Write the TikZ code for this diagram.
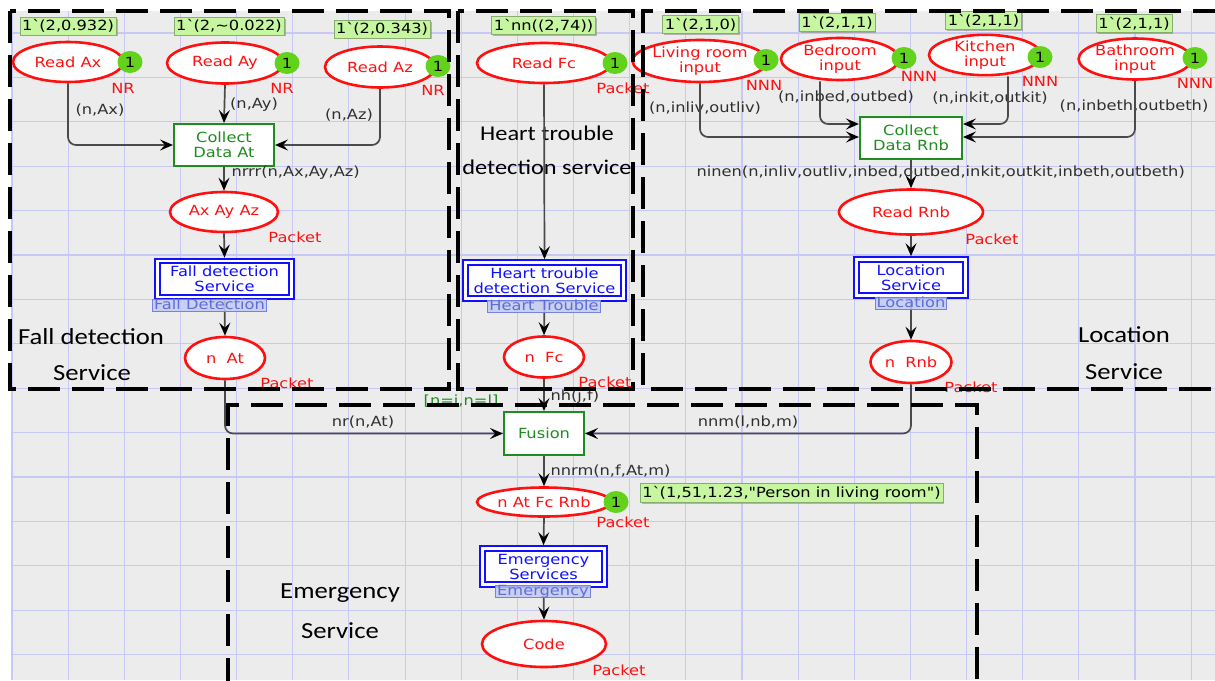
\documentclass[tikz,border=0pt]{standalone}
\usepackage{fontspec}
\usetikzlibrary{shapes.geometric,arrows.meta,shadows}
\newfontfamily\cpnfont[FakeStretch=1.16]{DejaVu Sans}
\newfontfamily\regionfont[FakeStretch=1.16]{Carlito}
\newcommand\bq{\textasciigrave}
\definecolor{canvasgray}{HTML}{ECECEC}
\definecolor{gridblue}{HTML}{C8C8F4}
\definecolor{placered}{HTML}{FF1010}
\definecolor{transgreen}{HTML}{1E8C1E}
\definecolor{substblue}{HTML}{1010FF}
\definecolor{tagfill}{HTML}{C3CAF2}
\definecolor{tagdraw}{HTML}{7483E2}
\definecolor{tagtext}{HTML}{5E6ED6}
\definecolor{tokgreen}{HTML}{C6F6A0}
\definecolor{dotgreen}{HTML}{62D21C}
\definecolor{arcgray}{HTML}{4A4A4A}
\definecolor{labelgray}{HTML}{303030}
\tikzset{
  cpnplace/.style={ellipse, draw=placered, line width=2.6pt, fill=white, text=placered, inner sep=0pt, align=center},
  cpntrans/.style={rectangle, draw=transgreen, line width=2pt, fill=white, text=transgreen, inner sep=0pt, align=center},
  cpnsubst/.style={rectangle, draw=substblue, line width=2pt, double=white, double distance=2.5pt, fill=white, text=substblue, inner sep=0pt, outer sep=3.3pt, align=center},
  cpntag/.style={rectangle, draw=tagdraw, line width=1pt, fill=tagfill, fill opacity=.85, text opacity=1, text=tagtext, inner xsep=1.5pt, inner ysep=0pt, text height=10pt, text depth=2pt},
  tokval/.style={rectangle, fill=tokgreen, draw=tokgreen!70!black, line width=.4pt, inner sep=2.3pt, drop shadow={shadow xshift=1.5pt, shadow yshift=-1.5pt, fill=black!45, opacity=.6}},
  tokdot/.style={ellipse, fill=dotgreen, inner sep=0pt, minimum width=25pt, minimum height=22pt},
  typelabel/.style={text=placered},
  arclabel/.style={text=labelgray},
  cpnarc/.style={draw=arcgray, line width=1.7pt, rounded corners=8pt, -{Stealth[length=13pt, width=11pt, inset=5pt, color=black]}},
  regionline/.style={draw=black, line width=4pt, dash pattern=on 32pt off 12pt},
  regiontext/.style={font=\regionfont\fontsize{23}{26}\selectfont, text=black}
}

\begin{document}
\begin{tikzpicture}[x=1pt, y=-1pt, every node/.style={font=\cpnfont\fontsize{14}{15}\selectfont}]
  \useasboundingbox (0,0) rectangle (1215,680);
  % canvas and grid
  \fill[canvasgray] (11,11) rectangle (1215,680);
  \foreach \k in {0,...,21} \draw[gridblue, line width=1.1pt] ({12+56.15*\k},11) -- ({12+56.15*\k},680);
  \foreach \k in {0,...,14} \draw[gridblue, line width=1.1pt] (11,{33+44.4*\k}) -- (1215,{33+44.4*\k});

  % fall detection service
  \node[tokval] (vAx) at (68,26) {1\bq(2,0.932)};
  \node[tokval] (vAy) at (229,26) {1\bq(2,\textasciitilde0.022)};
  \node[tokval] (vAz) at (382,29) {1\bq(2,0.343)};
  \node[cpnplace, minimum width=110pt, minimum height=40pt] (rAx) at (68,62) {Read Ax};
  \node[cpnplace, minimum width=116pt, minimum height=41pt] (rAy) at (225,63) {Read Ay};
  \node[cpnplace, minimum width=110pt, minimum height=41pt] (rAz) at (380,67) {Read Az};
  \node[tokdot] (kAx) at (130,62) {1};
  \node[tokdot] (kAy) at (287,63) {1};
  \node[tokdot] (kAz) at (438,66) {1};
  \node[typelabel] (tAx) at (123,88) {NR};
  \node[typelabel] (tAy) at (282,88) {NR};
  \node[typelabel] (tAz) at (433,90) {NR};
  \node[cpntrans, minimum width=100pt, minimum height=42pt] (cAt) at (224,145) {Collect\\Data At};
  \node[arclabel] (lAx) at (100,110) {(n,Ax)};
  \node[arclabel] (lAy) at (254,105) {(n,Ay)};
  \node[arclabel] (lAz) at (349,115) {(n,Az)};
  \node[arclabel, anchor=west] (lAt) at (228,173) {nrrr(n,Ax,Ay,Az)};
  \node[cpnplace, minimum width=108pt, minimum height=40pt] (pAxyz) at (224,212) {Ax Ay Az};
  \node[typelabel] (tAxyz) at (295,237) {Packet};
  \node[cpnsubst, minimum width=134pt, minimum height=36pt] (sFall) at (224.5,279) {Fall detection\\Service};
  \node[cpnplace, minimum width=80pt, minimum height=42pt] (pAt) at (225,358) {n\ \ At};
  \node[typelabel] (tAt) at (287,383) {Packet};
  \node[regiontext] (gFall) at (91,337) {Fall detection};
  \node[regiontext] (gFall2) at (92,373) {Service};

  % heart trouble detection service
  \node[tokval] (vFc) at (543.5,25.5) {1\bq nn((2,74))};
  \node[cpnplace, minimum width=134pt, minimum height=40pt] (rFc) at (544,63) {Read Fc};
  \node[tokdot] (kFc) at (615,63) {1};
  \node[typelabel] (tFc) at (623,88) {Packet};
  \node[regiontext, font=\regionfont\fontsize{21}{24}\selectfont] (gHeart) at (547,133) {Heart trouble};
  \node[regiontext, font=\regionfont\fontsize{21}{24}\selectfont] (gHeart2) at (547,167) {detection service};
  \node[cpnsubst, minimum width=158pt, minimum height=36pt] (sHeart) at (544.5,280.5) {Heart trouble\\detection Service};
  \node[cpnplace, minimum width=80pt, minimum height=41pt] (pFc) at (544,357) {n\ \ Fc};
  \node[typelabel] (tpFc) at (605,382) {Packet};

  % location service
  \node[tokval] (vLiv) at (700.5,24.5) {1\bq(2,1,0)};
  \node[tokval] (vBed) at (837,22.5) {1\bq(2,1,1)};
  \node[tokval] (vKit) at (983.5,20.5) {1\bq(2,1,1)};
  \node[tokval] (vBath) at (1134,23.5) {1\bq(2,1,1)};
  \node[cpnplace, minimum width=118pt, minimum height=42pt] (rLiv) at (700,61) {Living room\\input};
  \node[cpnplace, minimum width=118pt, minimum height=42pt] (rBed) at (840,59) {Bedroom\\input};
  \node[cpnplace, minimum width=112pt, minimum height=40pt] (rKit) at (985,55) {Kitchen\\input};
  \node[cpnplace, minimum width=110pt, minimum height=41pt] (rBath) at (1135,59) {Bathroom\\input};
  \node[tokdot] (kLiv) at (766,60) {1};
  \node[tokdot] (kBed) at (904,58) {1};
  \node[tokdot] (kKit) at (1040,57) {1};
  \node[tokdot] (kBath) at (1195,58) {1};
  \node[typelabel] (tLiv) at (764,85) {NNN};
  \node[typelabel] (tBed) at (919,76) {NNN};
  \node[typelabel] (tKit) at (1040,81) {NNN};
  \node[typelabel] (tBath) at (1195,83) {NNN};
  \node[cpntrans, minimum width=102pt, minimum height=42pt] (cRnb) at (911,138) {Collect\\Data Rnb};
  \node[arclabel] (lLiv) at (705,108) {(n,inliv,outliv)};
  \node[arclabel] (lBed) at (846,97) {(n,inbed,outbed)};
  \node[arclabel] (lKit) at (990,98) {(n,inkit,outkit)};
  \node[arclabel] (lBath) at (1134,106) {(n,inbeth,outbeth)};
  \node[arclabel, anchor=west] (lRnb) at (693,172) {ninen(n,inliv,outliv,inbed,outbed,inkit,outkit,inbeth,outbeth)};
  \node[cpnplace, minimum width=144pt, minimum height=45pt] (pRnb) at (911,212) {Read Rnb};
  \node[typelabel] (tRnb) at (992,239) {Packet};
  \node[cpnsubst, minimum width=109pt, minimum height=36pt] (sLoc) at (911,277.5) {Location\\Service};
  \node[cpnplace, minimum width=81pt, minimum height=42pt] (pnRnb) at (911,362) {n\ \ Rnb};
  \node[typelabel] (tnRnb) at (971,387) {Packet};
  \node[regiontext] (gLoc) at (1124,335) {Location};
  \node[regiontext] (gLoc2) at (1124,372) {Service};
  \coordinate (bLiv) at (701,137);
  \coordinate (bBed) at (820,124);
  \coordinate (bKit) at (1008,124);
  \coordinate (bBath) at (1136,137);

  % emergency service
  \node[text=transgreen] (guard) at (461,401) {[n=i,n=l]};
  \node[arclabel, anchor=west] (lFc) at (547,397) {nh(j,f)};
  \node[cpntrans, minimum width=80pt, minimum height=43pt] (fusion) at (544,433.5) {Fusion};
  \node[arclabel] (lnAt) at (363,422) {nr(n,At)};
  \node[arclabel] (lnRnb) at (748,422) {nnm(l,nb,m)};
  \node[arclabel, anchor=west] (lAll) at (547,471) {nnrm(n,f,At,m)};
  \node[cpnplace, minimum width=134pt, minimum height=29pt] (pAll) at (544,502) {n At Fc Rnb};
  \node[tokdot] (kAll) at (616,502) {1};
  \node[tokval] (vAll) at (791.5,493) {1\bq(1,51,1.23,"Person in living room")};
  \node[typelabel] (tAll) at (623,522) {Packet};
  \node[cpnsubst, minimum width=122pt, minimum height=36pt] (sEmer) at (543.5,566.5) {Emergency\\Services};
  \node[cpnplace, minimum width=124pt, minimum height=46pt] (pCode) at (544,644) {Code};
  \node[typelabel] (tCode) at (619,670) {Packet};
  \node[regiontext] (gEmer) at (340,593) {Emergency};
  \node[regiontext] (gEmer2) at (340,631) {Service};

  % arcs
  \draw[cpnarc] (rAx.south) |- (cAt.west);
  \draw[cpnarc] (rAy.south) -- (cAt.north);
  \draw[cpnarc] (rAz.south) |- (cAt.east);
  \draw[cpnarc] (cAt.south) -- (pAxyz.north);
  \draw[cpnarc] (pAxyz.south) -- (sFall.north);
  \draw[cpnarc] (sFall.south) -- (pAt.north);
  \draw[cpnarc] (rFc.south) -- (sHeart.north);
  \draw[cpnarc] (sHeart.south) -- (pFc.north);
  \draw[cpnarc] (rLiv.south) |- (cRnb.west |- bLiv);
  \draw[cpnarc] (rBed.south -| bBed) |- (cRnb.west |- bBed);
  \draw[cpnarc] (rKit.south -| bKit) |- (cRnb.east |- bKit);
  \draw[cpnarc] (rBath.south) |- (cRnb.east |- bBath);
  \draw[cpnarc] (cRnb.south) -- (pRnb.north);
  \draw[cpnarc] (pRnb.south) -- (sLoc.north);
  \draw[cpnarc] (sLoc.south) -- (pnRnb.north);
  \draw[cpnarc] (pAt.south) |- (fusion.west);
  \draw[cpnarc] (pnRnb.south) |- (fusion.east);
  \draw[cpnarc] (pFc.south) -- (fusion.north);
  \draw[cpnarc] (fusion.south) -- (pAll.north);
  \draw[cpnarc] (pAll.south) -- (sEmer.north);
  \draw[cpnarc] (sEmer.south) -- (pCode.north);

  % substitution tags
  \node[cpntag] (gtFall) at (209.5,305.5) {Fall Detection};
  \node[cpntag] (gtHeart) at (544,306) {Heart Trouble};
  \node[cpntag] (gtLoc) at (911,303) {Location};
  \node[cpntag] (gtEmer) at (543,591.5) {Emergency};

  % service regions
  \draw[regionline] (10,11) rectangle (449,389);
  \draw[regionline] (458,11) rectangle (633,389);
  \draw[regionline] (1225,11) -- (643,11) -- (643,389) -- (1225,389);
  \draw[regionline] (228,690) -- (228,405) -- (977,405) -- (977,690);
\end{tikzpicture}
\end{document}
